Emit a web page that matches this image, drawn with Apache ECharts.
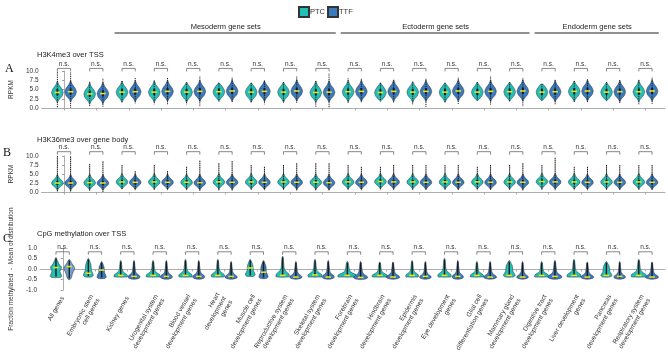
<!DOCTYPE html>
<html><head><meta charset="utf-8">
<script src="https://cdn.jsdelivr.net/npm/echarts@6/dist/echarts.min.js"></script>
<style>html,body{margin:0;padding:0;background:#fff}#c{width:668px;height:356px}</style>
</head><body><div id="c"></div>
<script>
// ---------------- data ----------------
const categories = [
  'All genes', 'Embryonic stem\ncell genes', 'Kidney genes', 'Urogenital system\ndevelopment genes',
  'Blood vessel\ndevelopment genes', 'Heart\ndevelopment\ngenes', 'Muscle cell\ndevelopment genes',
  'Reproductive system\ndevelopment genes', 'Skeletal system\ndevelopment genes', 'Forebrain\ndevelopment genes',
  'Hindbrain\ndevelopment genes', 'Epidermis\ndevelopment genes', 'Eye development\ngenes',
  'Glial cell\ndifferentiation genes', 'Mammary gland\ndevelopment genes', 'Digestive tract\ndevelopment genes',
  'Liver development\ngenes', 'Pancreas\ndevelopment genes', 'Respiratory system\ndevelopment genes'
];
const groupNames = ['Mesoderm gene sets', 'Ectoderm gene sets', 'Endoderm gene sets'];
const groupFirst = [2, 9, 15];
const groupLast = [8, 14, 18];
const seriesNames = ['PTC', 'TTF'];
const panelLetters = ['A', 'B', 'C'];
const panelTitles = ['H3K4me3 over TSS', 'H3K36me3 over gene body', 'CpG methylation over TSS'];
const yNames = ['RPKM', 'RPKM', 'Fraction methylated  -  Mean of distribution'];
const yTicksRPKM = ['0.0', '2.5', '5.0', '7.5', '10.0'];
const yTicksMeth = ['-1.0', '-0.5', '0.0', '0.5', '1.0'];
const sigLabels = ['n.s.','n.s.','n.s.','n.s.','n.s.','n.s.','n.s.','n.s.','n.s.','n.s.','n.s.','n.s.','n.s.','n.s.','n.s.','n.s.','n.s.','n.s.','n.s.'];

// Panel A: H3K4me3 over TSS (RPKM)
const aPtcMedian = [4.2,3.8,4.3,4.3,4.3,4.4,4.3,4.3,4.2,4.4,4.2,4.3,4.3,4.3,4.4,4.3,4.5,4.3,4.4];
const aTtfMedian = [4.4,3.9,4.4,4.5,4.5,4.6,4.5,4.6,4.3,4.5,4.5,4.5,4.6,4.5,4.6,4.4,4.6,4.4,4.6];
const aPtcLow    = [0.0,0.5,1.5,1.0,1.0,1.8,1.5,1.5,0.3,1.2,1.8,1.0,1.5,2.0,1.8,2.0,1.5,2.0,1.0];
const aPtcHigh   = [9.8,7.1,7.3,7.4,7.0,6.8,6.8,7.0,7.3,8.0,6.8,7.1,6.8,7.0,7.0,6.5,7.3,7.0,7.6];
const aTtfLow    = [0.0,0.3,1.2,0.8,0.5,1.5,1.0,1.3,0.0,1.5,1.5,0.3,1.0,0.8,0.5,1.0,1.5,1.2,1.0];
const aTtfHigh   = [9.6,7.9,8.1,8.1,8.5,8.2,7.4,8.5,9.3,7.9,7.6,7.9,8.2,8.5,8.0,7.6,7.7,7.5,8.2];

// Panel B: H3K36me3 over gene body (RPKM)
const bPtcMedian = [2.5,2.6,2.8,2.8,2.7,2.8,2.8,2.8,2.7,2.8,2.9,2.8,2.8,2.8,2.8,2.9,2.8,2.8,2.8];
const bTtfMedian = [2.5,2.5,2.7,2.7,2.6,2.7,2.7,2.7,2.6,2.7,2.8,2.7,2.7,2.7,2.7,2.8,2.7,2.7,2.7];
const bPtcLow    = [0.0,0.3,0.8,0.5,0.5,0.3,0.5,0.5,0.3,0.5,0.5,0.5,0.5,0.5,0.5,0.5,0.5,0.5,0.5];
const bPtcHigh   = [10.0,7.8,7.5,7.5,7.0,8.0,7.5,7.5,8.0,7.5,7.0,7.5,7.5,7.0,7.5,7.5,7.0,7.5,7.5];
const bTtfLow    = [0.0,0.0,0.5,0.5,0.3,0.3,0.5,0.3,0.3,0.5,0.5,0.5,0.5,0.5,0.3,0.5,0.5,0.5,0.5];
const bTtfHigh   = [9.9,8.5,5.8,5.8,8.7,8.6,7.0,8.0,8.0,7.0,7.5,7.5,7.5,7.5,8.0,9.5,7.0,7.5,7.5];

// Panel C: CpG methylation over TSS
const cPtcMedian = [0.07,-0.2,-0.3,-0.3,-0.3,-0.3,0.05,-0.3,-0.28,-0.3,-0.3,-0.3,-0.3,-0.3,-0.3,-0.3,-0.3,-0.3,-0.3];
const cTtfMedian = [0.12,-0.05,-0.35,-0.35,-0.35,-0.35,-0.15,-0.38,-0.38,-0.4,-0.38,-0.35,-0.35,-0.38,-0.38,-0.35,-0.38,-0.35,-0.38];
const cPtcLow    = [-0.4,-0.38,-0.38,-0.38,-0.38,-0.38,-0.35,-0.38,-0.38,-0.38,-0.38,-0.38,-0.38,-0.38,-0.38,-0.38,-0.38,-0.38,-0.38];
const cPtcHigh   = [0.55,0.5,0.4,0.4,0.45,0.45,0.45,0.6,0.45,0.35,0.33,0.4,0.5,0.35,0.4,0.35,0.45,0.35,0.45];
const cTtfLow    = [-0.5,-0.45,-0.48,-0.48,-0.48,-0.48,-0.45,-0.48,-0.48,-0.5,-0.48,-0.48,-0.48,-0.48,-0.48,-0.48,-0.48,-0.48,-0.48];
const cTtfHigh   = [0.45,0.35,0.4,0.4,0.4,0.35,0.4,0.35,0.4,0.35,0.33,0.35,0.4,0.35,0.35,0.4,0.33,0.35,0.33];
const cPtcShape  = ['allP','column','tent','tent','tent','tent','column','tent','tent','tent','tent','tent','tent','tent','column','tent','tent','column','tent'];
const cTtfShape  = ['allT','column','blob','blob','blob','blob','column','blob','blob','blob','blob','blob','blob','blob','blob','blob','blob','blob','blob'];
const cPtcDensity = [0.19,0.16,0.21,0.22,0.21,0.21,0.16,0.21,0.22,0.3,0.24,0.2,0.21,0.21,0.19,0.22,0.22,0.18,0.24];
const cTtfDensity = [0.17,0.15,0.19,0.19,0.19,0.19,0.15,0.19,0.19,0.22,0.21,0.18,0.18,0.2,0.18,0.22,0.2,0.18,0.2];

// violin outline profiles
// A/B: [offset from median, relative half-width]
const aProfile = [[-2.8,0],[-2.0,0.25],[-1.0,0.8],[0,1],[0.9,0.8],[2.0,0.28],[3.1,0]];
const bProfile = [[-2.0,0],[-1.2,0.4],[-0.5,0.9],[0,1],[0.55,0.85],[1.3,0.35],[2.4,0]];
// C: [fraction from low to high, relative half-width]
const cProfiles = {
  allP:   [[0,0.7],[0.06,0.95],[0.15,0.85],[0.3,0.65],[0.45,0.85],[0.52,0.9],[0.62,0.6],[0.78,0.32],[0.9,0.16],[1,0.03]],
  allT:   [[0,0.15],[0.1,0.4],[0.25,0.55],[0.4,0.75],[0.55,1],[0.65,0.88],[0.8,0.5],[0.92,0.25],[1,0.05]],
  tent:   [[0,0.9],[0.05,1],[0.15,0.92],[0.26,0.55],[0.36,0.3],[0.5,0.2],[0.75,0.14],[1,0.05]],
  blob:   [[0,0.25],[0.04,0.75],[0.1,1],[0.19,0.88],[0.3,0.45],[0.42,0.26],[0.65,0.17],[1,0.05]],
  column: [[0,0.6],[0.08,0.95],[0.2,0.85],[0.35,0.6],[0.55,0.55],[0.7,0.48],[0.85,0.28],[1,0.06]]
};

// ---------------- styles ----------------
const COLORS = ['#22bfb9', '#3a7bbf'];
const FONT = 'Liberation Sans, Arial, sans-serif';
const OFFSET = [-0.21, 0.2];
const HALF = [0.18, 0.18];

function polygonFrom(api, xc, pts, hw) {
  const right = pts.map(p => { const c = api.coord([xc, p[0]]); return [c[0] + p[1] * hw, c[1]]; });
  const left = pts.slice().reverse().map(p => { const c = api.coord([xc, p[0]]); return [c[0] - p[1] * hw, c[1]]; });
  return right.concat(left);
}

function violinAB(panel, g) {
  const prof = panel === 0 ? aProfile : bProfile;
  return function (params, api) {
    const i = api.value(0), med = api.value(1), lo = api.value(2), hi = api.value(3);
    const xc = i + OFFSET[g];
    const hw = api.size([HALF[panel], 0])[0];
    const pts = prof.map(p => [Math.min(hi, Math.max(lo, med + p[0])), p[1]]);
    const top = api.coord([xc, hi]), bot = api.coord([xc, lo]);
    const q1 = api.coord([xc, med - (panel === 0 ? 0.8 : 0.55)]), q3 = api.coord([xc, med + (panel === 0 ? 0.9 : 0.6)]);
    const m = api.coord([xc, med]);
    return {
      type: 'group', children: [
        { type: 'polygon', shape: { points: polygonFrom(api, xc, pts, hw), smooth: 0.15 },
          style: { fill: COLORS[g], stroke: '#2b2b2b', lineWidth: 0.5 } },
        { type: 'line', shape: { x1: top[0], y1: top[1], x2: bot[0], y2: bot[1] },
          style: { stroke: '#1a1a1a', lineWidth: 1.0, lineDash: panel === 0 ? [1, 0.8] : [1.6, 0.5] } },
        { type: 'rect', shape: { x: m[0] - 1, y: q3[1], width: 2, height: q1[1] - q3[1] },
          style: { fill: '#1a1a1a' } },
        { type: 'rect', shape: { x: m[0] - 2.8, y: m[1] - 0.8, width: 5.6, height: 1.6 },
          style: { fill: '#e8e21c' } }
      ]
    };
  };
}

function violinC(g) {
  return function (params, api) {
    const i = api.value(0), med = api.value(1), lo = api.value(2), hi = api.value(3);
    const prof = cProfiles[(g === 0 ? cPtcShape : cTtfShape)[i]];
    const dens = (g === 0 ? cPtcDensity : cTtfDensity)[i];
    const xc = i + OFFSET[g];
    const hw = api.size([dens, 0])[0];
    const pts = prof.map(p => [lo + p[0] * (hi - lo), p[1]]);
    const top = api.coord([xc, hi]), bot = api.coord([xc, lo]);
    const m = api.coord([xc, med]);
    const light = (g === 1 && i === 0);
    return {
      type: 'group', children: [
        { type: 'polygon', shape: { points: polygonFrom(api, xc, pts, hw), smooth: 0.2 },
          style: { fill: light ? '#6f9dd2' : COLORS[g], stroke: '#2b2b2b', lineWidth: 0.5 } },
        { type: 'line', shape: { x1: top[0], y1: top[1] + 1, x2: bot[0], y2: bot[1] - 1 },
          style: { stroke: '#1a1a1a', lineWidth: 1.4 } },
        { type: 'rect', shape: { x: m[0] - 2.8, y: m[1] - 0.8, width: 5.6, height: 1.6 },
          style: { fill: '#e8e21c' } }
      ]
    };
  };
}

function bracketRender(bv) {
  return function (params, api) {
    const i = api.value(0);
    const a = api.coord([i + OFFSET[0], bv]), b = api.coord([i + OFFSET[1], bv]);
    return {
      type: 'group', children: [
        { type: 'polyline', shape: { points: [[a[0], a[1] + 3], [a[0], a[1]], [b[0], b[1]], [b[0], b[1] + 3]] },
          style: { stroke: '#555', lineWidth: 0.7, fill: null } },
        { type: 'text', style: { x: (a[0] + b[0]) / 2, y: a[1] - 1, text: sigLabels[i], align: 'center',
          verticalAlign: 'bottom', fontSize: 6.5, fill: '#333', fontFamily: FONT } }
      ]
    };
  };
}

function headerRender(params, api) {
  const f = api.value(0), l = api.value(1), k = api.value(2);
  const a = api.coord([f - 0.5, 10]), b = api.coord([l + 0.5, 10]);
  const y = a[1] - 38;
  return {
    type: 'group', children: [
      { type: 'line', shape: { x1: a[0] + 2, y1: y, x2: b[0] - 3, y2: y }, style: { stroke: '#222', lineWidth: 1 } },
      { type: 'text', style: { x: (a[0] + b[0]) / 2, y: y - 2, text: groupNames[k], align: 'center',
        verticalAlign: 'bottom', fontSize: 7.5, fill: '#222', fontFamily: FONT } }
    ]
  };
}

const idx = categories.map((c, i) => i);
const grids = [
  { left: 37, top: 71, width: 628, height: 37 },
  { left: 37, top: 156, width: 628, height: 36 },
  { left: 37, top: 248, width: 628, height: 45 }
];
const xAxes = grids.map((g, p) => ({
  type: 'value', gridIndex: p, min: -0.7, max: 18.6, offset: p === 2 ? 3 : 0,
  axisLine: { show: true, lineStyle: { color: '#999', width: 0.8 } },
  axisTick: { show: true, customValues: idx, length: 2.5, lineStyle: { color: '#999', width: 0.8 } },
  axisLabel: p === 2 ? { show: true, customValues: idx, formatter: v => categories[v], rotate: 60,
    fontSize: 6.5, lineHeight: 7.5, color: '#333', margin: 4, fontFamily: FONT } : { show: false },
  splitLine: { show: false }
}));
const yAxes = grids.map((g, p) => {
  const meth = p === 2;
  const ticks = meth ? yTicksMeth : yTicksRPKM;
  return {
    type: 'value', gridIndex: p, min: meth ? -1 : 0, max: meth ? 1 : 10, interval: meth ? 0.5 : 2.5,
    name: yNames[p], nameLocation: 'middle', nameGap: meth ? 17 : 19,
    nameTextStyle: { fontSize: 6.5, color: '#333', fontFamily: FONT },
    axisLine: { show: true, lineStyle: { color: '#999', width: 0.8 } },
    axisTick: { show: true, length: 2, lineStyle: { color: '#999' } },
    axisLabel: { fontSize: 6.5, color: '#333', margin: 3, fontFamily: FONT, formatter: (v, j) => ticks[j] },
    splitLine: { show: false }
  };
});

const series = [];
const panelData = [
  [[aPtcMedian, aPtcLow, aPtcHigh], [aTtfMedian, aTtfLow, aTtfHigh]],
  [[bPtcMedian, bPtcLow, bPtcHigh], [bTtfMedian, bTtfLow, bTtfHigh]],
  [[cPtcMedian, cPtcLow, cPtcHigh], [cTtfMedian, cTtfLow, cTtfHigh]]
];
panelData.forEach((pd, p) => {
  pd.forEach((arr, g) => {
    series.push({
      type: 'custom', name: seriesNames[g], xAxisIndex: p, yAxisIndex: p, clip: false,
      itemStyle: { color: COLORS[g], borderColor: '#333', borderWidth: 0.6 },
      renderItem: p === 2 ? violinC(g) : violinAB(p, g),
      data: idx.map(i => [i, arr[0][i], arr[1][i], arr[2][i]])
    });
  });
  series.push({
    type: 'custom', name: 'sig' + p, xAxisIndex: p, yAxisIndex: p, clip: false, silent: true,
    renderItem: bracketRender([10.7, 11.2, 0.82][p]), data: idx.map(i => [i])
  });
});
series.push({
  type: 'custom', name: 'groups', xAxisIndex: 0, yAxisIndex: 0, clip: false, silent: true,
  renderItem: headerRender, data: groupNames.map((n, k) => [groupFirst[k], groupLast[k], k])
});

const graphics = [];
[[5, 63], [3, 147], [3, 233]].forEach((pos, p) => {
  graphics.push({ type: 'text', left: pos[0], top: pos[1],
    style: { text: panelLetters[p], fontSize: 12, fontFamily: 'Liberation Serif, Times New Roman, serif', fill: '#111' } });
});
[51, 136, 230].forEach((t, p) => {
  graphics.push({ type: 'text', left: 37, top: t,
    style: { text: panelTitles[p], fontSize: 7.5, fontFamily: FONT, fill: '#222' } });
});

const chart = echarts.init(document.getElementById('c'), null, { renderer: 'canvas' });
chart.setOption({
  animation: false,
  textStyle: { fontFamily: FONT },
  grid: grids,
  xAxis: xAxes,
  yAxis: yAxes,
  legend: {
    data: seriesNames, left: 293, top: 1, icon: 'rect', itemWidth: 10, itemHeight: 10, itemGap: 2,
    textStyle: { fontSize: 7.5, color: '#333', padding: [0, 0, 0, -4] }
  },
  graphic: graphics,
  series: series
});
</script>
</body></html>
